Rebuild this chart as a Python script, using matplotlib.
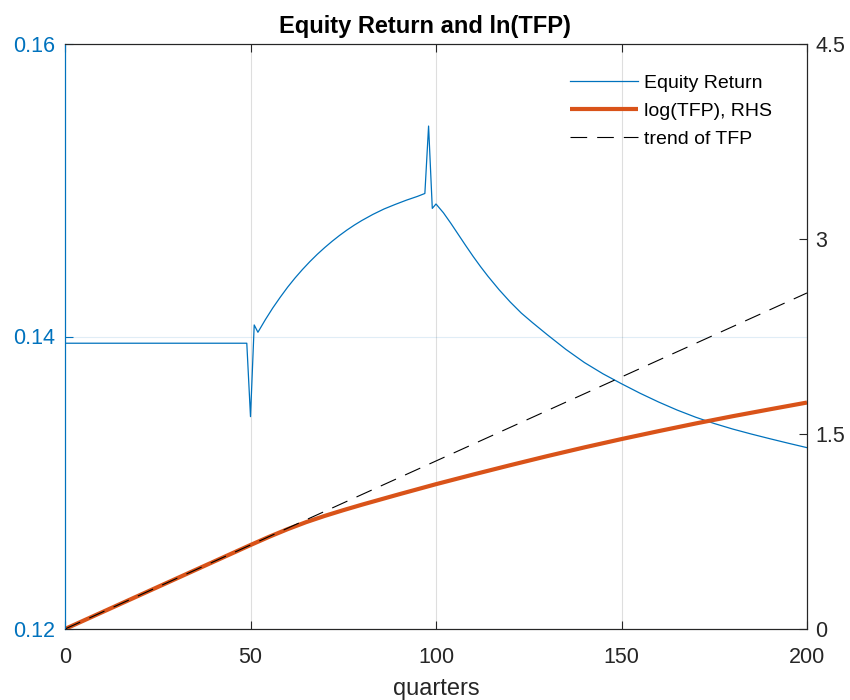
import matplotlib
matplotlib.use("Agg")
import matplotlib.pyplot as plt

plt.rcParams['font.family'] = ['Liberation Sans', 'DejaVu Sans']

# Equity return (left axis)
eq_q = [0, 49, 50, 51, 52, 54, 56, 58, 60, 62, 64, 66, 68, 70, 72, 74, 76, 78, 80,
        83, 86, 89, 92, 95, 97, 98, 99, 100, 102, 104, 106, 108, 110, 112, 114,
        117, 120, 123, 126, 130, 135, 140, 145, 150, 155, 160, 165, 170, 175, 180,
        185, 190, 195, 200]
eq_ret = [0.13954, 0.13954, 0.13452, 0.14079, 0.14029, 0.14115, 0.14195, 0.14268,
          0.14337, 0.14400, 0.14458, 0.14512, 0.14562, 0.14608, 0.14651, 0.14691,
          0.14728, 0.14762, 0.14793, 0.14835, 0.14872, 0.14903, 0.14932, 0.14958,
          0.14978, 0.15439, 0.14876, 0.14906, 0.14846, 0.14774, 0.14698, 0.14622,
          0.14548, 0.14478, 0.14412, 0.14320, 0.14236, 0.14160, 0.14095, 0.14012,
          0.13912, 0.13822, 0.13745, 0.13677, 0.13612, 0.13552, 0.13497, 0.13448,
          0.13405, 0.13367, 0.13333, 0.13301, 0.13270, 0.13240]

# log(TFP) (right axis)
tfp_q = [0, 25, 50, 55, 60, 65, 70, 75, 80, 90, 100, 110, 120, 130, 140, 150,
         160, 170, 180, 190, 200]
log_tfp = [0.0, 0.323, 0.646, 0.709, 0.768, 0.822, 0.870, 0.914, 0.956, 1.036,
           1.114, 1.188, 1.260, 1.330, 1.397, 1.461, 1.522, 1.581, 1.637, 1.690, 1.742]

# trend of TFP
trend_q = [0, 200]
trend_tfp = [0.0, 2.585]

x_ticks = [0, 50, 100, 150, 200]
left_ticks = [0.12, 0.14, 0.16]
left_tick_labels = ['0.12', '0.14', '0.16']
right_ticks = [0, 1.5, 3, 4.5]
right_tick_labels = ['0', '1.5', '3', '4.5']

BLUE = '#0072BD'
ORANGE = '#D95319'
DARK = '#262626'

fig = plt.figure(figsize=(8.5, 7.0), dpi=100)
ax = fig.add_axes([65/850, 1-629/700, (807-65)/850, (629-44)/700])
ax2 = ax.twinx()

l1, = ax.plot(eq_q, eq_ret, color=BLUE, lw=0.9, label='Equity Return')
l2, = ax2.plot(tfp_q, log_tfp, color=ORANGE, lw=3.0, label='log(TFP), RHS',
               solid_capstyle='butt')
l3, = ax2.plot(trend_q, trend_tfp, color='black', lw=0.8, label='trend of TFP')
l3.set_dashes((15, 9))

ax.set_xlim(0, 200)
ax.set_ylim(0.12, 0.16)
ax2.set_ylim(0, 4.5)
ax.set_xticks(x_ticks)
ax.set_yticks(left_ticks)
ax.set_yticklabels(left_tick_labels)
ax2.set_yticks(right_ticks)
ax2.set_yticklabels(right_tick_labels)

ax.xaxis.grid(True, color=DARK, alpha=0.15, lw=0.8)
ax.yaxis.grid(True, color=BLUE, alpha=0.12, lw=0.8)
ax.set_axisbelow(True)

ax.tick_params(axis='x', direction='in', length=6, width=0.8, colors=DARK,
               labelsize=15.5, top=True, pad=13)
ax.tick_params(axis='y', direction='in', length=6, width=0.8, colors=BLUE,
               labelsize=15.5, pad=7)
ax2.tick_params(axis='y', direction='in', length=6, width=0.8, colors=DARK,
                labelsize=15.5, pad=6)

for a in (ax, ax2):
    a.spines['top'].set_color(DARK)
    a.spines['bottom'].set_color(DARK)
    a.spines['left'].set_color(BLUE)
    a.spines['right'].set_color(DARK)
    for sp in a.spines.values():
        sp.set_linewidth(0.8)

ax.set_xlabel('quarters', fontsize=17, color=DARK, labelpad=7.5)
fig.text(425/850, 1-26/700, 'Equity Return and ln(TFP)', fontsize=17,
         fontweight='bold', ha='center', va='center', color='black')

leg = ax2.legend(handles=[l1, l2, l3], loc='upper right',
                 bbox_to_anchor=(772/850, 1-74/700), bbox_transform=fig.transFigure,
                 frameon=False, fontsize=14,
                 handlelength=3.5, handletextpad=0.3, labelspacing=0.55,
                 borderpad=0, borderaxespad=0)

fig.savefig('out.png', dpi=100, facecolor='white')
